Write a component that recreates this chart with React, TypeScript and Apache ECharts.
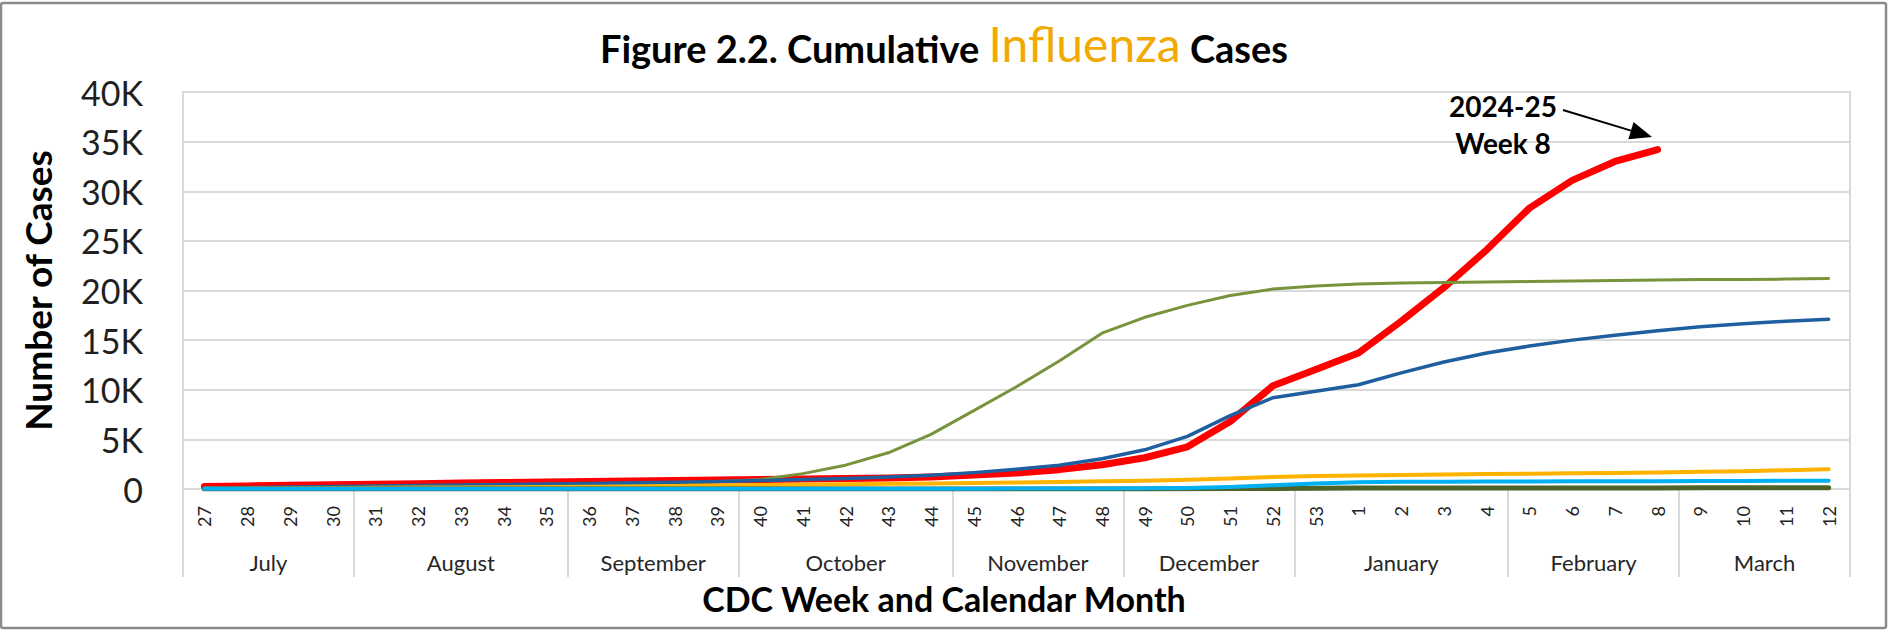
import React, { useEffect, useRef } from "react";
import * as echarts from "echarts";

// CDC weeks (categories)
const weeks = [
  "27", "28", "29", "30", "31", "32", "33", "34", "35", "36", "37", "38", "39",
  "40", "41", "42", "43", "44", "45", "46", "47", "48", "49", "50", "51", "52", "53",
  "1", "2", "3", "4", "5", "6", "7", "8", "9", "10", "11", "12",
];

// Calendar months under the weeks and how many weeks each spans
const monthNames = ["July", "August", "September", "October", "November", "December", "January", "February", "March"];
const monthWeekCounts = [4, 5, 4, 5, 4, 4, 5, 4, 4];

// Cumulative cases per season
const season2024_25 = [
  250, 310, 370, 430, 490, 540, 600, 650, 700, 750, 800, 850, 900,
  960, 1010, 1060, 1120, 1220, 1400, 1600, 1950, 2450, 3150, 4250, 6800, 10400, 12050,
  13700, 16900, 20300, 24100, 28300, 31100, 33000, 34200, null, null, null, null,
];
const seasonBlue = [
  100, 150, 200, 250, 300, 350, 400, 450, 500, 560, 620, 680, 750,
  850, 950, 1050, 1200, 1380, 1650, 2000, 2400, 3050, 3950, 5300, 7400, 9200, 9850,
  10500, 11700, 12800, 13700, 14400, 15000, 15500, 15950, 16350, 16650, 16900, 17100,
];
const seasonGreen = [
  60, 90, 120, 160, 200, 240, 290, 340, 400, 460, 530, 620, 740,
  950, 1550, 2400, 3650, 5500, 7900, 10300, 12900, 15700, 17300, 18500, 19500, 20150, 20450,
  20650, 20750, 20800, 20850, 20900, 20950, 21000, 21050, 21100, 21120, 21150, 21200,
];
const seasonGold = [
  40, 60, 80, 100, 120, 140, 160, 180, 200, 230, 260, 300, 350,
  400, 440, 480, 520, 560, 610, 660, 710, 770, 840, 920, 1050, 1200, 1300,
  1370, 1420, 1470, 1500, 1540, 1580, 1620, 1670, 1730, 1800, 1890, 1980,
];
const seasonCyan = [
  20, 20, 20, 20, 20, 20, 20, 20, 20, 20, 20, 20, 20,
  20, 20, 20, 25, 30, 35, 40, 45, 55, 70, 100, 200, 380, 560,
  680, 720, 740, 750, 760, 770, 780, 790, 800, 810, 825, 840,
];
const seasonDarkOlive = [
  10, 10, 10, 10, 10, 10, 10, 10, 10, 10, 10, 10, 10,
  10, 10, 10, 10, 10, 10, 10, 10, 10, 10, 20, 40, 60, 80,
  90, 100, 100, 105, 105, 110, 110, 110, 115, 115, 120, 120,
];

const FONT = "Lato";

export default function App() {
  const ref = useRef<HTMLDivElement>(null);

  useEffect(() => {
    if (!ref.current) return;
    const chart = echarts.init(ref.current, null, { renderer: "svg" });

    const bounds: number[] = [0];
    monthWeekCounts.forEach((c) => bounds.push(bounds[bounds.length - 1] + c));
    const mids = monthNames.map((_, i) => (bounds[i] + bounds[i + 1]) / 2);

    const mkLine = (name: string, data: (number | null)[], color: string, width: number) => ({
      name,
      type: "line",
      data,
      xAxisIndex: 0,
      yAxisIndex: 0,
      showSymbol: false,
      symbol: "none",
      silent: true,
      connectNulls: false,
      lineStyle: { color, width, cap: "round", join: "round" },
      itemStyle: { color },
      emphasis: { disabled: true },
    });

    // arrow geometry for the callout
    const sx = 1563, sy = 110, tx = 1652, ty = 137;
    const dx = tx - sx, dy = ty - sy;
    const len = Math.sqrt(dx * dx + dy * dy);
    const ux = dx / len, uy = dy / len;
    const headL = 22, headW = 9;
    const bx = tx - ux * headL, by = ty - uy * headL;

    const option: any = {
      animation: false,
      backgroundColor: "#ffffff",
      title: [
        {
          text: "{a|Figure 2.2. Cumulative }{b|Influenza}{a| Cases}",
          left: "center",
          top: 17,
          padding: 0,
          textStyle: {
            rich: {
              a: { fontFamily: FONT, fontWeight: "bold", fontSize: 38, color: "#000000", verticalAlign: "bottom", lineHeight: 50 },
              b: { fontFamily: FONT, fontWeight: "normal", fontSize: 48, color: "#F2A900", verticalAlign: "bottom", lineHeight: 50 },
            },
          },
        },
        {
          text: "CDC Week and Calendar Month",
          left: "center",
          top: 581,
          padding: 0,
          textStyle: { fontFamily: FONT, fontWeight: "bold", fontSize: 34, color: "#000000", lineHeight: 34 },
        },
      ],
      grid: {
        left: 183,
        right: 38,
        top: 92,
        bottom: 141,
        show: true,
        borderColor: "#d9d9d9",
        borderWidth: 2,
        backgroundColor: "transparent",
      },
      xAxis: [
        {
          type: "category",
          data: weeks,
          boundaryGap: true,
          position: "bottom",
          axisLine: { show: false },
          axisTick: { show: false },
          splitLine: { show: false },
          axisLabel: {
            interval: 0,
            rotate: 90,
            margin: 17,
            fontFamily: FONT,
            fontSize: 18,
            color: "#222222",
          },
        },
        {
          type: "value",
          min: 0,
          max: weeks.length,
          position: "bottom",
          axisLine: { show: false },
          splitLine: { show: false },
          axisTick: {
            show: true,
            customValues: bounds,
            length: 88,
            lineStyle: { color: "#d9d9d9", width: 2 },
          },
          axisLabel: {
            customValues: mids,
            margin: 62,
            fontFamily: FONT,
            fontSize: 22,
            color: "#262626",
            formatter: (v: number) => {
              const i = mids.findIndex((m) => Math.abs(m - v) < 1e-6);
              return i >= 0 ? monthNames[i] : "";
            },
          },
        },
      ],
      yAxis: {
        type: "value",
        min: 0,
        max: 40000,
        interval: 5000,
        axisLine: { show: false },
        axisTick: { show: false },
        splitLine: { lineStyle: { color: "#d9d9d9", width: 2 } },
        axisLabel: {
          margin: 40,
          fontFamily: FONT,
          fontSize: 34,
          color: "#1f1f1f",
          formatter: (v: number) => (v === 0 ? "0" : v / 1000 + "K"),
        },
        name: "Number of Cases",
        nameLocation: "middle",
        nameRotate: 90,
        nameGap: 127,
        nameTextStyle: { fontFamily: FONT, fontWeight: "bold", fontSize: 37, color: "#000000" },
      },
      series: [
        mkLine("2024-25", season2024_25, "#FF0000", 7),
        mkLine("Season (green)", seasonGreen, "#77933C", 3),
        mkLine("Season (blue)", seasonBlue, "#1F5FA0", 3.5),
        mkLine("Season (gold)", seasonGold, "#FFB300", 4),
        mkLine("Season (dark olive)", seasonDarkOlive, "#4F6228", 5),
        mkLine("Season (light blue)", seasonCyan, "#00B0F0", 4),
      ],
      graphic: [
        {
          type: "rect",
          shape: { x: 1, y: 3, width: 1885, height: 625, r: 2 },
          style: { fill: "none", stroke: "#8a8a8a", lineWidth: 2.5 },
          silent: true,
          z: 100,
        },
        {
          type: "text",
          x: 1503,
          y: 124,
          style: {
            text: "2024-25\nWeek 8",
            align: "center",
            verticalAlign: "middle",
            fontFamily: FONT,
            fontWeight: "bold",
            fontSize: 28,
            lineHeight: 37,
            fill: "#000000",
          },
          z: 100,
        },
        {
          type: "line",
          shape: { x1: sx, y1: sy, x2: bx, y2: by },
          style: { stroke: "#000000", lineWidth: 2 },
          z: 100,
        },
        {
          type: "polygon",
          shape: {
            points: [
              [tx, ty],
              [bx - uy * headW, by + ux * headW],
              [bx + uy * headW, by - ux * headW],
            ],
          },
          style: { fill: "#000000" },
          z: 100,
        },
      ],
    };

    chart.setOption(option);
    return () => chart.dispose();
  }, []);

  return (
    <div
      ref={ref}
      style={{ position: "absolute", left: 0, top: 0, width: 1888, height: 630, background: "#ffffff" }}
    />
  );
}
